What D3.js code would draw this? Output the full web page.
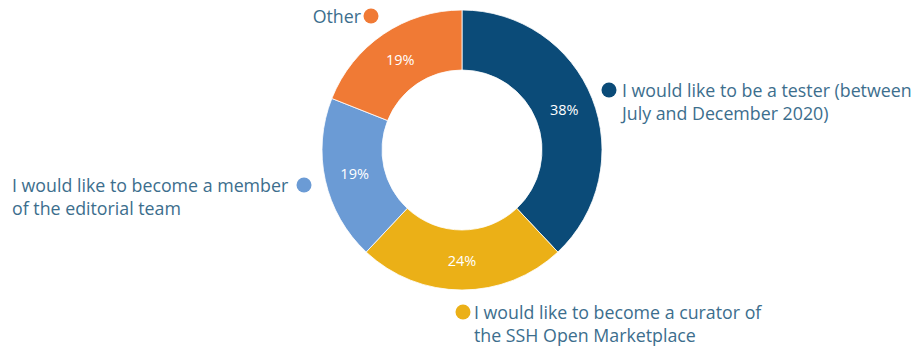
<!DOCTYPE html>
<html>
<head>
<meta charset="utf-8">
<script src="https://cdn.jsdelivr.net/npm/d3@7"></script>
<style>
  html, body { margin: 0; padding: 0; background: #ffffff; }
  svg { display: block; }
  text { font-family: "Open Sans", "Noto Sans", sans-serif; }
</style>
</head>
<body>
<svg id="chart" width="923" height="347"></svg>
<script>
// Survey answers, in drawing order (clockwise from 12 o'clock)
const categories = [
  "I would like to be a tester (between July and December 2020)",
  "I would like to become a curator of the SSH Open Marketplace",
  "I would like to become a member of the editorial team",
  "Other"
];
const values = [38, 24, 19, 19];
const labelLines = [
  ["I would like to be a tester (between", "July and December 2020)"],
  ["I would like to become a curator of", "the SSH Open Marketplace"],
  ["I would like to become a member", "of the editorial team"],
  ["Other"]
];

const palette = ["#0b4b78", "#ebb017", "#6b9bd5", "#f07a35"];
const labelColor = "#3c6e8d";

const width = 923, height = 347;
const cx = 462, cy = 150;
const outerR = 140, innerR = 80;

const svg = d3.select("#chart");

const color = d3.scaleOrdinal().domain(categories).range(palette);

const pie = d3.pie().sort(null).value(d => d.value);
const data = categories.map((c, i) => ({ category: c, value: values[i], lines: labelLines[i] }));
const arcs = pie(data);

const arc = d3.arc().innerRadius(innerR).outerRadius(outerR);
const labelArc = d3.arc().innerRadius(110).outerRadius(110);

const g = svg.append("g").attr("transform", `translate(${cx},${cy})`);

g.selectAll("path.slice")
  .data(arcs)
  .join("path")
  .attr("class", "slice")
  .attr("d", arc)
  .attr("fill", d => color(d.data.category))
  .attr("stroke", "#ffffff")
  .attr("stroke-width", 0.8);

g.selectAll("text.pct")
  .data(arcs)
  .join("text")
  .attr("class", "pct")
  .attr("transform", d => `translate(${labelArc.centroid(d)})`)
  .attr("text-anchor", "middle")
  .attr("dominant-baseline", "central")
  .attr("fill", "#ffffff")
  .attr("font-size", 14.5)
  .text(d => d3.format(".0f")(d.data.value) + "%");

// Legend entries placed around the ring: dot + one or two text lines
const legendLayout = [
  { dotX: 609, dotY: 90, textX: 622, anchor: "start" },   // tester
  { dotX: 463, dotY: 312, textX: 474, anchor: "start" },  // curator
  { dotX: 304, dotY: 185, textX: 12, anchor: "start" },   // editorial (text left of dot)
  { dotX: 371, dotY: 16, textX: 361, anchor: "end" }      // other
];
const lineGap = 23;

const legend = svg.selectAll("g.legend")
  .data(data)
  .join("g")
  .attr("class", "legend");

legend.append("circle")
  .attr("cx", (d, i) => legendLayout[i].dotX)
  .attr("cy", (d, i) => legendLayout[i].dotY)
  .attr("r", 7.5)
  .attr("fill", d => color(d.category));

legend.each(function(d, i) {
  const L = legendLayout[i];
  const sel = d3.select(this);
  d.lines.forEach((line, k) => {
    sel.append("text")
      .attr("x", L.textX)
      .attr("y", L.dotY + k * lineGap)
      .attr("text-anchor", L.anchor)
      .attr("dominant-baseline", "central")
      .attr("fill", labelColor)
      .attr("font-size", 17.8)
      .text(line);
  });
});
</script>
</body>
</html>
